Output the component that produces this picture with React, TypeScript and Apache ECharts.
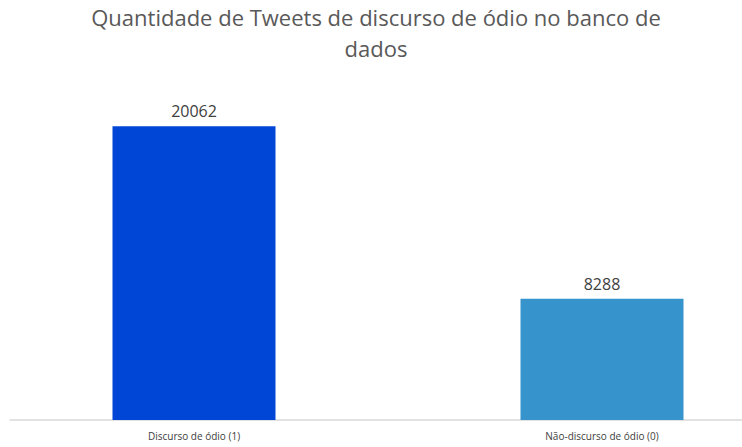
import React, { useEffect, useRef } from "react";
import * as echarts from "echarts";

const categories = ["Discurso de ódio (1)", "Não-discurso de ódio (0)"];
const values = [20062, 8288];
const barColors = ["#0046D6", "#3793CC"];
const titleText = "Quantidade de Tweets de discurso de ódio no banco de\ndados";

export default function App() {
  const ref = useRef<HTMLDivElement>(null);
  useEffect(() => {
    if (!ref.current) return;
    const chart = echarts.init(ref.current, null, { renderer: "svg" });
    chart.setOption({
      animation: false,
      backgroundColor: "#ffffff",
      title: {
        text: titleText,
        left: 371,
        top: -4,
        textAlign: "center",
        textStyle: {
          fontFamily: "Open Sans",
          fontSize: 22,
          fontWeight: "normal",
          color: "#595959",
          lineHeight: 31,
        },
      },
      grid: [
        { left: -10, width: 816, top: 98, bottom: 27, outerBoundsMode: "none", containLabel: false },
        { left: 10, right: 0, top: 98, bottom: 27, outerBoundsMode: "none", containLabel: false },
      ],
      xAxis: [
        {
          type: "category",
          gridIndex: 0,
          data: categories,
          axisLine: { show: false },
          axisTick: { show: false },
          axisLabel: {
            fontFamily: "Open Sans",
            fontSize: 10,
            color: "#404040",
            margin: 11,
          },
        },
        {
          type: "category",
          gridIndex: 1,
          data: categories,
          axisLine: { show: true, lineStyle: { color: "#D9D9D9", width: 1.5 } },
          axisTick: { show: false },
          axisLabel: { show: false },
        },
      ],
      yAxis: [
        { type: "value", gridIndex: 0, min: 0, max: 22000, show: false },
        { type: "value", gridIndex: 1, min: 0, max: 22000, show: false },
      ],
      series: [
        {
          type: "bar",
          xAxisIndex: 0,
          yAxisIndex: 0,
          barWidth: 163,
          data: values.map((v, i) => ({ value: v, itemStyle: { color: barColors[i] } })),
          label: {
            show: true,
            position: "top",
            distance: 7,
            fontFamily: "Open Sans",
            fontSize: 16,
            color: "#404040",
          },
        },
      ],
    });
    return () => chart.dispose();
  }, []);
  return (
    <div
      ref={ref}
      style={{ position: "fixed", left: 0, top: 0, width: 742, height: 447 }}
    />
  );
}
